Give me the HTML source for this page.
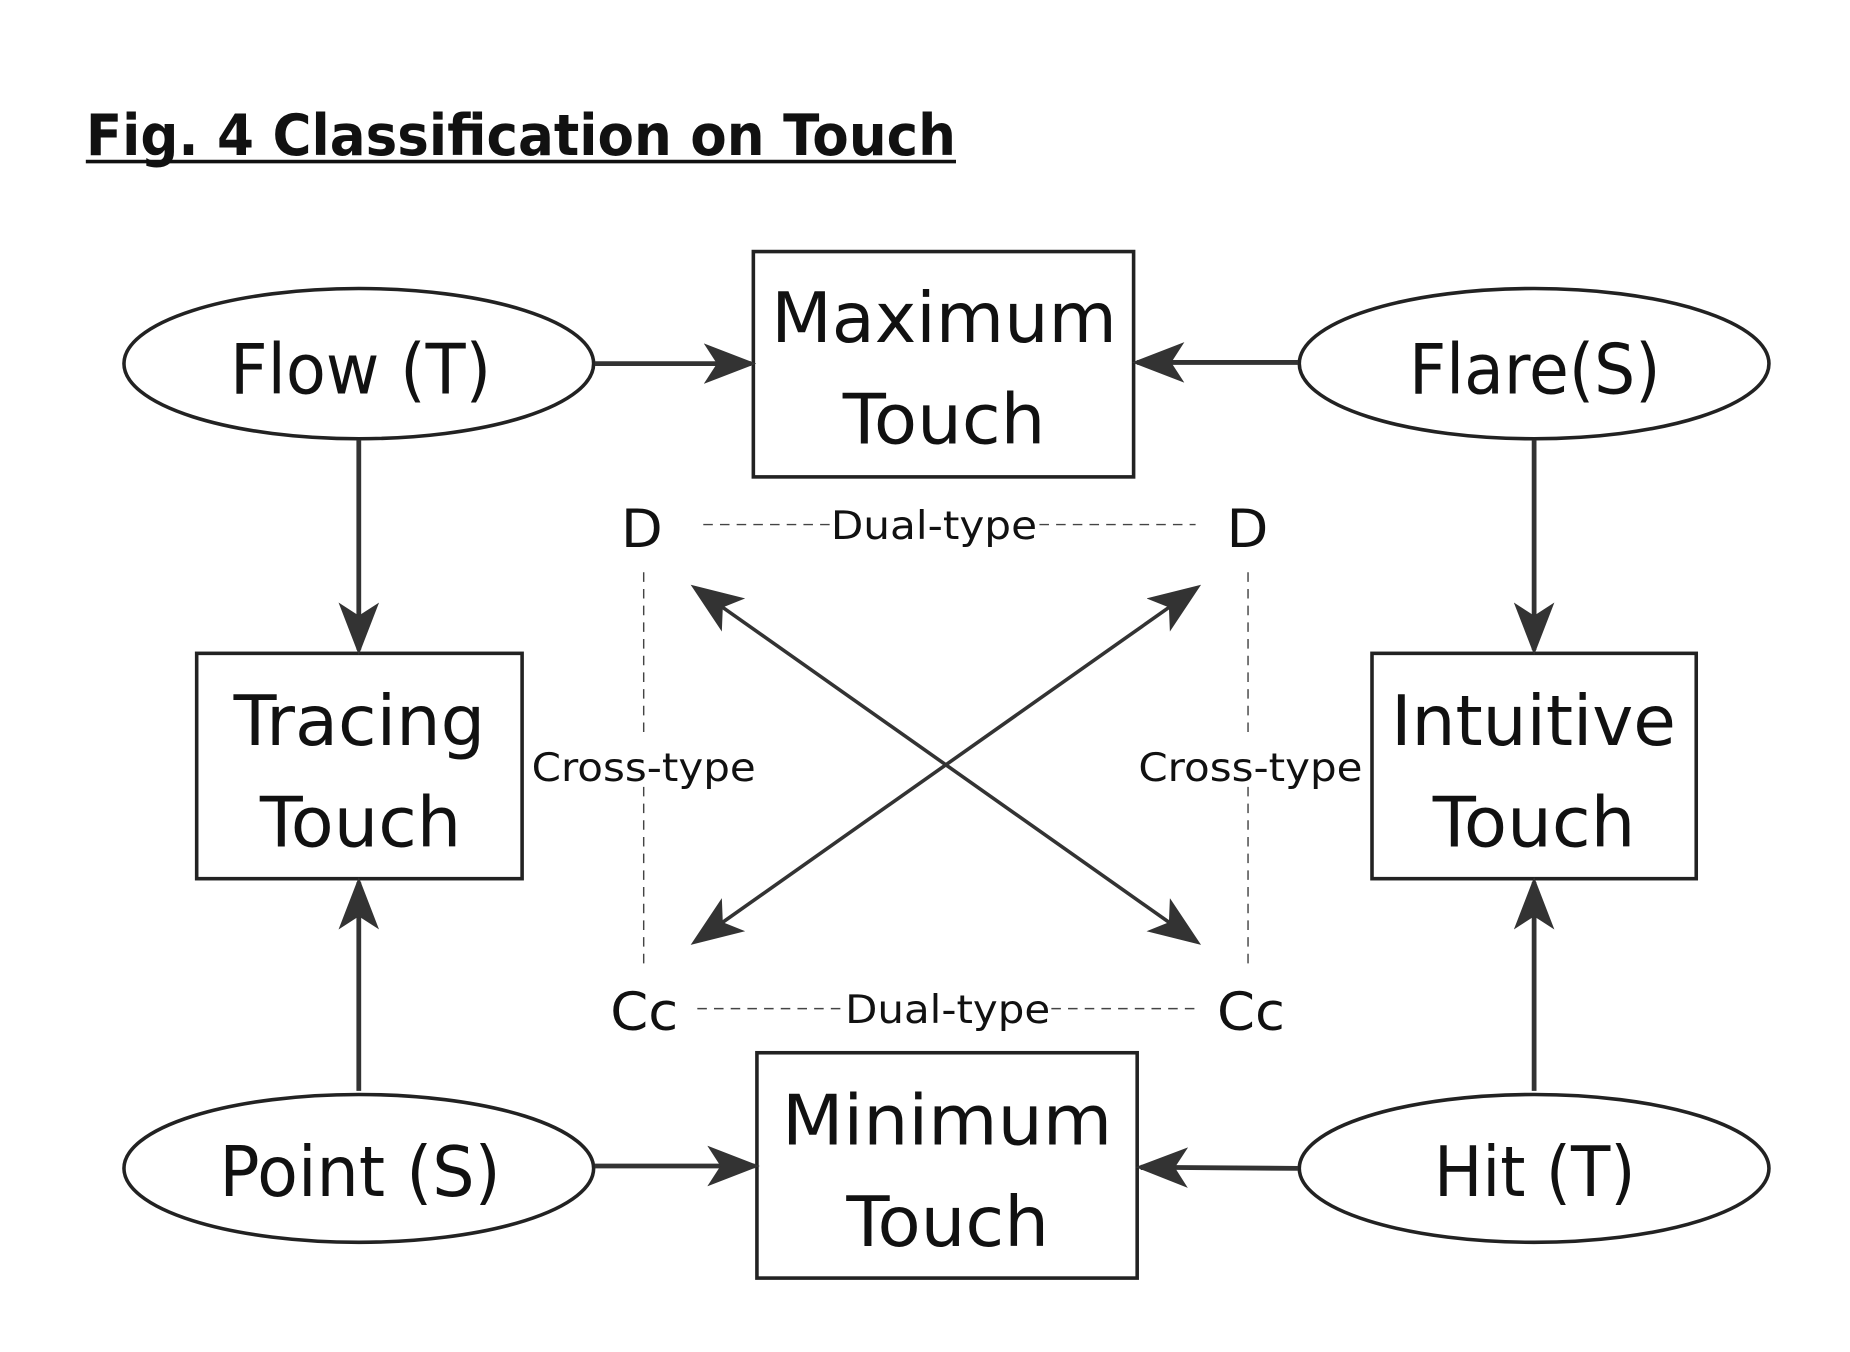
<!DOCTYPE html>
<html><head><meta charset="utf-8"><style>html,body{margin:0;padding:0;background:#fff}svg{display:block}</style></head>
<body>
<svg width="1850" height="1352" viewBox="0 0 1552 1134" preserveAspectRatio="none" xmlns="http://www.w3.org/2000/svg">
<defs>
<marker id="a" viewBox="0 0 20 20" refX="18" refY="10" markerWidth="11" markerHeight="11" markerUnits="userSpaceOnUse" orient="auto-start-reverse"><path d="M0,0 L20,10 L0,20 L5,10 Z" fill="#333"/></marker>
<marker id="b" viewBox="0 0 20 20" refX="18" refY="10" markerWidth="44" markerHeight="34" markerUnits="userSpaceOnUse" orient="auto-start-reverse" preserveAspectRatio="none"><path d="M0,0 L20,10 L0,20 L5,10 Z" fill="#333"/></marker>
</defs>
<g font-family="'DejaVu Sans','Liberation Sans',sans-serif" fill="#111">
<text x="72" y="130" font-size="48" font-weight="bold" textLength="730" lengthAdjust="spacingAndGlyphs">Fig. 4 Classification on Touch</text>
<rect x="72" y="134" width="730" height="3" fill="#111"/>

<g fill="none" stroke="#222" stroke-width="3">
<rect x="632" y="211" width="319" height="189"/>
<rect x="165" y="548" width="273" height="189"/>
<rect x="1151" y="548" width="272" height="189"/>
<rect x="635" y="883" width="319" height="189"/>
<ellipse cx="301" cy="305" rx="197" ry="63"/>
<ellipse cx="1287" cy="305" rx="197" ry="63"/>
<ellipse cx="301" cy="980" rx="197" ry="62"/>
<ellipse cx="1287" cy="980" rx="197" ry="62"/>
</g>

<g stroke="#333" stroke-width="4" fill="none" marker-end="url(#b)">
<line x1="499" y1="305" x2="630" y2="305"/>
<line x1="1089" y1="304" x2="954" y2="304"/>
<line x1="499" y1="978" x2="633" y2="978"/>
<line x1="1089" y1="980" x2="957" y2="979"/>
<line x1="301" y1="369" x2="301" y2="545"/>
<line x1="1287" y1="369" x2="1287" y2="545"/>
<line x1="301" y1="915" x2="301" y2="740"/>
<line x1="1287" y1="915" x2="1287" y2="740"/>
</g>
<g stroke="#333" stroke-width="3" fill="none" marker-start="url(#b)" marker-end="url(#b)">
<line x1="583" y1="493" x2="1004" y2="790"/>
<line x1="1004" y1="493" x2="583" y2="790"/>
</g>
<g stroke="#444" stroke-width="1.2" stroke-dasharray="8,6" fill="none">
<line x1="590" y1="440" x2="696" y2="440"/><line x1="872" y1="440" x2="1003" y2="440"/>
<line x1="585" y1="846" x2="708" y2="846"/><line x1="882" y1="846" x2="1005" y2="846"/>
<line x1="540" y1="480" x2="540" y2="620"/><line x1="540" y1="660" x2="540" y2="810"/>
<line x1="1047" y1="480" x2="1047" y2="620"/><line x1="1047" y1="660" x2="1047" y2="810"/>
</g>

<g font-size="58">
<text x="647" y="287" textLength="290" lengthAdjust="spacingAndGlyphs">Maximum</text>
<text x="707" y="372" textLength="170" lengthAdjust="spacingAndGlyphs">Touch</text>
<text x="193" y="330" textLength="219" lengthAdjust="spacingAndGlyphs">Flow (T)</text>
<text x="1182" y="330" textLength="211" lengthAdjust="spacingAndGlyphs">Flare(S)</text>
<text x="196" y="625" textLength="211" lengthAdjust="spacingAndGlyphs">Tracing</text>
<text x="218" y="710" textLength="169" lengthAdjust="spacingAndGlyphs">Touch</text>
<text x="1167" y="625" textLength="239" lengthAdjust="spacingAndGlyphs">Intuitive</text>
<text x="1202" y="710" textLength="170" lengthAdjust="spacingAndGlyphs">Touch</text>
<text x="656" y="960" textLength="277" lengthAdjust="spacingAndGlyphs">Minimum</text>
<text x="710" y="1045" textLength="170" lengthAdjust="spacingAndGlyphs">Touch</text>
<text x="184" y="1003" textLength="236" lengthAdjust="spacingAndGlyphs">Point (S)</text>
<text x="1203" y="1003" textLength="169" lengthAdjust="spacingAndGlyphs">Hit (T)</text>
</g>
<g font-size="44">
<text x="521" y="459" textLength="35" lengthAdjust="spacingAndGlyphs">D</text>
<text x="1029" y="459" textLength="35" lengthAdjust="spacingAndGlyphs">D</text>
<text x="512" y="864" textLength="57" lengthAdjust="spacingAndGlyphs">Cc</text>
<text x="1021" y="864" textLength="57" lengthAdjust="spacingAndGlyphs">Cc</text>
</g>
<g font-size="33">
<text x="697" y="452" textLength="173" lengthAdjust="spacingAndGlyphs">Dual-type</text>
<text x="709" y="858" textLength="172" lengthAdjust="spacingAndGlyphs">Dual-type</text>
<text x="446" y="655" textLength="188" lengthAdjust="spacingAndGlyphs">Cross-type</text>
<text x="955" y="655" textLength="188" lengthAdjust="spacingAndGlyphs">Cross-type</text>
</g>
</g>
</svg>
</body></html>
